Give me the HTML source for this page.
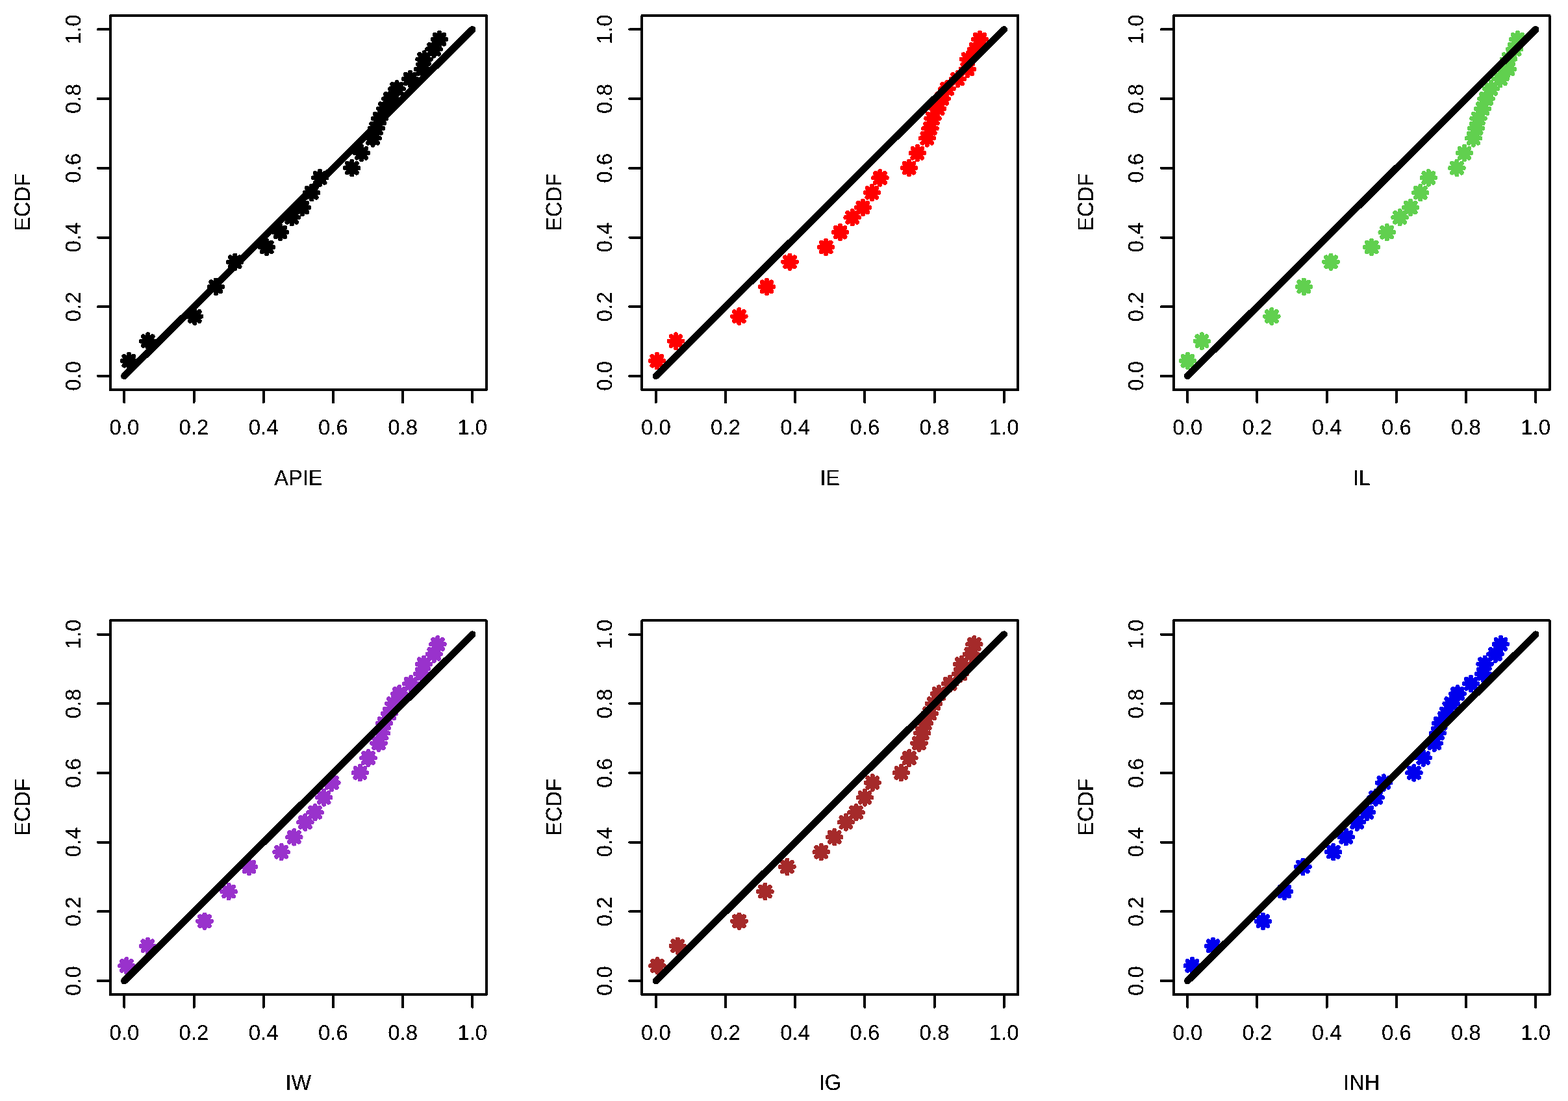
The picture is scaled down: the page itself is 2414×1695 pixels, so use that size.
<!DOCTYPE html>
<html lang="en"><head><meta charset="utf-8"><title>P-P plots: APIE, IE, IL, IW, IG, INH</title>
<style>
html,body{margin:0;padding:0;background:#fff;}
body{width:2414px;height:1695px;overflow:hidden;}
svg{display:block;}
text{font-family:"Liberation Sans", "DejaVu Sans", sans-serif;font-size:33.0px;fill:#000;text-anchor:middle;text-rendering:geometricPrecision;}
.ax{stroke:#000;stroke-width:4;fill:none;stroke-linecap:round;stroke-linejoin:round;}
.ln{stroke:#000;stroke-width:9.38;fill:none;stroke-linecap:round;}
.mk{stroke-width:6.25;fill:none;stroke-linecap:round;}
</style></head><body>
<svg width="2414" height="1695" viewBox="0 0 2414 1695" shape-rendering="crispEdges">
<rect x="0" y="0" width="2414" height="1695" fill="#ffffff"/>
<defs>
<path id="a" d="M-10.2 0H10.2M0 -10.2V10.2M-7.21 -7.21L7.21 7.21M-7.21 7.21L7.21 -7.21"/>
<g id="m"><use href="#a" x="-0.42" y="-0.42"/><use href="#a" x="-0.42" y="0.42"/><use href="#a" x="0.42" y="-0.42"/><use href="#a" x="0.42" y="0.42"/></g>
<filter id="hard" filterUnits="userSpaceOnUse" x="0" y="0" width="2414" height="1695" color-interpolation-filters="sRGB"><feComponentTransfer><feFuncA type="discrete" tableValues="0 0 1 1 1"/></feComponentTransfer></filter>
</defs>
<g id="panel-apie">
<g class="mk" stroke="#000000">
<use href="#m" x="198.3" y="555.6"/>
<use href="#m" x="227.7" y="525.14"/>
<use href="#m" x="299.7" y="487.07"/>
<use href="#m" x="332.3" y="441.38"/>
<use href="#m" x="361.7" y="403.3"/>
<use href="#m" x="410.7" y="380.46"/>
<use href="#m" x="431.5" y="357.61"/>
<use href="#m" x="449.3" y="334.77"/>
<use href="#m" x="465.6" y="319.54"/>
<use href="#m" x="479.7" y="296.69"/>
<use href="#m" x="492.6" y="273.85"/>
<use href="#m" x="541.8" y="258.62"/>
<use href="#m" x="556.5" y="235.77"/>
<use href="#m" x="574" y="212.93"/>
<use href="#m" x="579.3" y="197.7"/>
<use href="#m" x="584.5" y="182.47"/>
<use href="#m" x="593" y="167.24"/>
<use href="#m" x="601" y="152.01"/>
<use href="#m" x="611" y="136.78"/>
<use href="#m" x="631.4" y="121.55"/>
<use href="#m" x="650.7" y="106.32"/>
<use href="#m" x="653.1" y="91.09"/>
<use href="#m" x="668" y="75.86"/>
<use href="#m" x="676.5" y="60.63"/>
</g>
<path class="ln" d="M190.85 578.4l535.9 -533.5M190.85 579.4l535.9 -533.5M191.85 578.4l535.9 -533.5M191.85 579.4l535.9 -533.5"/>
<path class="ax" d="M169.91 24.06H748.7V600.24H169.91Z"/>
<path class="ax" d="M191.35 600.24v19.2M169.91 578.9h-19.2M298.53 600.24v19.2M169.91 472.2h-19.2M405.71 600.24v19.2M169.91 365.5h-19.2M512.89 600.24v19.2M169.91 258.8h-19.2M620.07 600.24v19.2M169.91 152.1h-19.2M727.25 600.24v19.2M169.91 45.4h-19.2"/>
</g>
<g id="panel-ie">
<g class="mk" stroke="#ff0000">
<use href="#m" x="1011.3" y="555.6"/>
<use href="#m" x="1040.5" y="525.14"/>
<use href="#m" x="1137.8" y="487.07"/>
<use href="#m" x="1180.5" y="441.38"/>
<use href="#m" x="1216" y="403.3"/>
<use href="#m" x="1271.7" y="380.46"/>
<use href="#m" x="1293.6" y="357.61"/>
<use href="#m" x="1312.2" y="334.77"/>
<use href="#m" x="1328.4" y="319.54"/>
<use href="#m" x="1342.4" y="296.69"/>
<use href="#m" x="1354.9" y="273.85"/>
<use href="#m" x="1399.6" y="258.62"/>
<use href="#m" x="1412.4" y="235.77"/>
<use href="#m" x="1427.4" y="212.93"/>
<use href="#m" x="1431.9" y="197.7"/>
<use href="#m" x="1436" y="182.47"/>
<use href="#m" x="1443.7" y="167.24"/>
<use href="#m" x="1450.1" y="152.01"/>
<use href="#m" x="1457.9" y="136.78"/>
<use href="#m" x="1474.2" y="121.55"/>
<use href="#m" x="1489.3" y="106.32"/>
<use href="#m" x="1490.5" y="91.09"/>
<use href="#m" x="1502.5" y="75.86"/>
<use href="#m" x="1508.5" y="60.63"/>
</g>
<path class="ln" d="M1009.33 578.4l535.9 -533.5M1009.33 579.4l535.9 -533.5M1010.33 578.4l535.9 -533.5M1010.33 579.4l535.9 -533.5"/>
<path class="ax" d="M988.39 24.06H1567.18V600.24H988.39Z"/>
<path class="ax" d="M1009.83 600.24v19.2M988.39 578.9h-19.2M1117.01 600.24v19.2M988.39 472.2h-19.2M1224.19 600.24v19.2M988.39 365.5h-19.2M1331.37 600.24v19.2M988.39 258.8h-19.2M1438.55 600.24v19.2M988.39 152.1h-19.2M1545.73 600.24v19.2M988.39 45.4h-19.2"/>
</g>
<g id="panel-il">
<g class="mk" stroke="#61d04f">
<use href="#m" x="1828.4" y="555.6"/>
<use href="#m" x="1850.4" y="525.14"/>
<use href="#m" x="1957.8" y="487.07"/>
<use href="#m" x="2007.3" y="441.38"/>
<use href="#m" x="2049" y="403.3"/>
<use href="#m" x="2111.7" y="380.46"/>
<use href="#m" x="2135.2" y="357.61"/>
<use href="#m" x="2155.1" y="334.77"/>
<use href="#m" x="2171.7" y="319.54"/>
<use href="#m" x="2186.8" y="296.69"/>
<use href="#m" x="2199.3" y="273.85"/>
<use href="#m" x="2242.9" y="258.62"/>
<use href="#m" x="2254.5" y="235.77"/>
<use href="#m" x="2268.5" y="212.93"/>
<use href="#m" x="2272.6" y="197.7"/>
<use href="#m" x="2276" y="182.47"/>
<use href="#m" x="2282.5" y="167.24"/>
<use href="#m" x="2288" y="152.01"/>
<use href="#m" x="2295.5" y="136.78"/>
<use href="#m" x="2309.9" y="121.55"/>
<use href="#m" x="2321.5" y="106.32"/>
<use href="#m" x="2322.5" y="91.09"/>
<use href="#m" x="2331.6" y="75.86"/>
<use href="#m" x="2336.4" y="60.63"/>
</g>
<path class="ln" d="M1827.81 578.4l535.9 -533.5M1827.81 579.4l535.9 -533.5M1828.81 578.4l535.9 -533.5M1828.81 579.4l535.9 -533.5"/>
<path class="ax" d="M1806.87 24.06H2385.66V600.24H1806.87Z"/>
<path class="ax" d="M1828.31 600.24v19.2M1806.87 578.9h-19.2M1935.49 600.24v19.2M1806.87 472.2h-19.2M2042.67 600.24v19.2M1806.87 365.5h-19.2M2149.85 600.24v19.2M1806.87 258.8h-19.2M2257.03 600.24v19.2M1806.87 152.1h-19.2M2364.21 600.24v19.2M1806.87 45.4h-19.2"/>
</g>
<g id="panel-iw">
<g class="mk" stroke="#9932cc">
<use href="#m" x="194.8" y="1486.79"/>
<use href="#m" x="227.4" y="1456.33"/>
<use href="#m" x="315" y="1418.25"/>
<use href="#m" x="352.1" y="1372.56"/>
<use href="#m" x="383.4" y="1334.48"/>
<use href="#m" x="433.1" y="1311.64"/>
<use href="#m" x="452.8" y="1288.8"/>
<use href="#m" x="469.9" y="1265.95"/>
<use href="#m" x="485" y="1250.72"/>
<use href="#m" x="498.6" y="1227.87"/>
<use href="#m" x="510.8" y="1205.03"/>
<use href="#m" x="554.4" y="1189.8"/>
<use href="#m" x="567" y="1166.95"/>
<use href="#m" x="583" y="1144.11"/>
<use href="#m" x="587.6" y="1128.88"/>
<use href="#m" x="591.4" y="1113.65"/>
<use href="#m" x="599.5" y="1098.42"/>
<use href="#m" x="605.9" y="1083.19"/>
<use href="#m" x="614.9" y="1067.96"/>
<use href="#m" x="632.8" y="1052.73"/>
<use href="#m" x="649.5" y="1037.5"/>
<use href="#m" x="652.5" y="1022.27"/>
<use href="#m" x="668.3" y="1007.04"/>
<use href="#m" x="673.9" y="991.81"/>
</g>
<path class="ln" d="M190.85 1509.58l535.9 -533.5M190.85 1510.58l535.9 -533.5M191.85 1509.58l535.9 -533.5M191.85 1510.58l535.9 -533.5"/>
<path class="ax" d="M169.91 955.24H748.7V1531.42H169.91Z"/>
<path class="ax" d="M191.35 1531.42v19.2M169.91 1510.08h-19.2M298.53 1531.42v19.2M169.91 1403.38h-19.2M405.71 1531.42v19.2M169.91 1296.68h-19.2M512.89 1531.42v19.2M169.91 1189.98h-19.2M620.07 1531.42v19.2M169.91 1083.28h-19.2M727.25 1531.42v19.2M169.91 976.58h-19.2"/>
</g>
<g id="panel-ig">
<g class="mk" stroke="#a52a2a">
<use href="#m" x="1012" y="1486.79"/>
<use href="#m" x="1043.3" y="1456.33"/>
<use href="#m" x="1138" y="1418.25"/>
<use href="#m" x="1177.9" y="1372.56"/>
<use href="#m" x="1211.9" y="1334.48"/>
<use href="#m" x="1264.2" y="1311.64"/>
<use href="#m" x="1284.7" y="1288.8"/>
<use href="#m" x="1302.4" y="1265.95"/>
<use href="#m" x="1318" y="1250.72"/>
<use href="#m" x="1331.5" y="1227.87"/>
<use href="#m" x="1343.3" y="1205.03"/>
<use href="#m" x="1387.4" y="1189.8"/>
<use href="#m" x="1399.9" y="1166.95"/>
<use href="#m" x="1415" y="1144.11"/>
<use href="#m" x="1419.7" y="1128.88"/>
<use href="#m" x="1423.7" y="1113.65"/>
<use href="#m" x="1431.2" y="1098.42"/>
<use href="#m" x="1437.5" y="1083.19"/>
<use href="#m" x="1445.5" y="1067.96"/>
<use href="#m" x="1462.6" y="1052.73"/>
<use href="#m" x="1478.6" y="1037.5"/>
<use href="#m" x="1480.6" y="1022.27"/>
<use href="#m" x="1495.3" y="1007.04"/>
<use href="#m" x="1499.8" y="991.81"/>
</g>
<path class="ln" d="M1009.33 1509.58l535.9 -533.5M1009.33 1510.58l535.9 -533.5M1010.33 1509.58l535.9 -533.5M1010.33 1510.58l535.9 -533.5"/>
<path class="ax" d="M988.39 955.24H1567.18V1531.42H988.39Z"/>
<path class="ax" d="M1009.83 1531.42v19.2M988.39 1510.08h-19.2M1117.01 1531.42v19.2M988.39 1403.38h-19.2M1224.19 1531.42v19.2M988.39 1296.68h-19.2M1331.37 1531.42v19.2M988.39 1189.98h-19.2M1438.55 1531.42v19.2M988.39 1083.28h-19.2M1545.73 1531.42v19.2M988.39 976.58h-19.2"/>
</g>
<g id="panel-inh">
<g class="mk" stroke="#0000ee">
<use href="#m" x="1835.4" y="1486.79"/>
<use href="#m" x="1867.6" y="1456.33"/>
<use href="#m" x="1944.4" y="1418.25"/>
<use href="#m" x="1977.4" y="1372.56"/>
<use href="#m" x="2005.9" y="1334.48"/>
<use href="#m" x="2052.8" y="1311.64"/>
<use href="#m" x="2072.4" y="1288.8"/>
<use href="#m" x="2089.2" y="1265.95"/>
<use href="#m" x="2104.4" y="1250.72"/>
<use href="#m" x="2118" y="1227.87"/>
<use href="#m" x="2130.4" y="1205.03"/>
<use href="#m" x="2176.9" y="1189.8"/>
<use href="#m" x="2191.4" y="1166.95"/>
<use href="#m" x="2208.4" y="1144.11"/>
<use href="#m" x="2213.4" y="1128.88"/>
<use href="#m" x="2217.6" y="1113.65"/>
<use href="#m" x="2227" y="1098.42"/>
<use href="#m" x="2234.2" y="1083.19"/>
<use href="#m" x="2244" y="1067.96"/>
<use href="#m" x="2264.6" y="1052.73"/>
<use href="#m" x="2283.6" y="1037.5"/>
<use href="#m" x="2286.1" y="1022.27"/>
<use href="#m" x="2302.1" y="1007.04"/>
<use href="#m" x="2310.4" y="991.81"/>
</g>
<path class="ln" d="M1827.81 1509.58l535.9 -533.5M1827.81 1510.58l535.9 -533.5M1828.81 1509.58l535.9 -533.5M1828.81 1510.58l535.9 -533.5"/>
<path class="ax" d="M1806.87 955.24H2385.66V1531.42H1806.87Z"/>
<path class="ax" d="M1828.31 1531.42v19.2M1806.87 1510.08h-19.2M1935.49 1531.42v19.2M1806.87 1403.38h-19.2M2042.67 1531.42v19.2M1806.87 1296.68h-19.2M2149.85 1531.42v19.2M1806.87 1189.98h-19.2M2257.03 1531.42v19.2M1806.87 1083.28h-19.2M2364.21 1531.42v19.2M1806.87 976.58h-19.2"/>
</g>
<g id="labels" filter="url(#hard)">
<text x="191.35" y="669">0.0</text>
<text transform="translate(124 578.9) rotate(-90)">0.0</text>
<text x="298.53" y="669">0.2</text>
<text transform="translate(124 472.2) rotate(-90)">0.2</text>
<text x="405.71" y="669">0.4</text>
<text transform="translate(124 365.5) rotate(-90)">0.4</text>
<text x="512.89" y="669">0.6</text>
<text transform="translate(124 258.8) rotate(-90)">0.6</text>
<text x="620.07" y="669">0.8</text>
<text transform="translate(124 152.1) rotate(-90)">0.8</text>
<text x="727.25" y="669">1.0</text>
<text transform="translate(124 45.4) rotate(-90)">1.0</text>
<text transform="translate(459.31 747) scale(0.985 1.03)">APIE</text>
<text transform="translate(45.8 311.35) rotate(-90) scale(0.985 1.03)">ECDF</text>
<text x="1009.83" y="669">0.0</text>
<text transform="translate(942.4 578.9) rotate(-90)">0.0</text>
<text x="1117.01" y="669">0.2</text>
<text transform="translate(942.4 472.2) rotate(-90)">0.2</text>
<text x="1224.19" y="669">0.4</text>
<text transform="translate(942.4 365.5) rotate(-90)">0.4</text>
<text x="1331.37" y="669">0.6</text>
<text transform="translate(942.4 258.8) rotate(-90)">0.6</text>
<text x="1438.55" y="669">0.8</text>
<text transform="translate(942.4 152.1) rotate(-90)">0.8</text>
<text x="1545.73" y="669">1.0</text>
<text transform="translate(942.4 45.4) rotate(-90)">1.0</text>
<text transform="translate(1277.79 747) scale(0.985 1.03)">IE</text>
<text transform="translate(864.28 311.35) rotate(-90) scale(0.985 1.03)">ECDF</text>
<text x="1828.31" y="669">0.0</text>
<text transform="translate(1760 578.9) rotate(-90)">0.0</text>
<text x="1935.49" y="669">0.2</text>
<text transform="translate(1760 472.2) rotate(-90)">0.2</text>
<text x="2042.67" y="669">0.4</text>
<text transform="translate(1760 365.5) rotate(-90)">0.4</text>
<text x="2149.85" y="669">0.6</text>
<text transform="translate(1760 258.8) rotate(-90)">0.6</text>
<text x="2257.03" y="669">0.8</text>
<text transform="translate(1760 152.1) rotate(-90)">0.8</text>
<text x="2364.21" y="669">1.0</text>
<text transform="translate(1760 45.4) rotate(-90)">1.0</text>
<text transform="translate(2096.26 747) scale(0.985 1.03)">IL</text>
<text transform="translate(1682.76 311.35) rotate(-90) scale(0.985 1.03)">ECDF</text>
<text x="191.35" y="1601">0.0</text>
<text transform="translate(124 1510.08) rotate(-90)">0.0</text>
<text x="298.53" y="1601">0.2</text>
<text transform="translate(124 1403.38) rotate(-90)">0.2</text>
<text x="405.71" y="1601">0.4</text>
<text transform="translate(124 1296.68) rotate(-90)">0.4</text>
<text x="512.89" y="1601">0.6</text>
<text transform="translate(124 1189.98) rotate(-90)">0.6</text>
<text x="620.07" y="1601">0.8</text>
<text transform="translate(124 1083.28) rotate(-90)">0.8</text>
<text x="727.25" y="1601">1.0</text>
<text transform="translate(124 976.58) rotate(-90)">1.0</text>
<text transform="translate(459.31 1678.18) scale(0.985 1.03)">IW</text>
<text transform="translate(45.8 1242.53) rotate(-90) scale(0.985 1.03)">ECDF</text>
<text x="1009.83" y="1601">0.0</text>
<text transform="translate(942.4 1510.08) rotate(-90)">0.0</text>
<text x="1117.01" y="1601">0.2</text>
<text transform="translate(942.4 1403.38) rotate(-90)">0.2</text>
<text x="1224.19" y="1601">0.4</text>
<text transform="translate(942.4 1296.68) rotate(-90)">0.4</text>
<text x="1331.37" y="1601">0.6</text>
<text transform="translate(942.4 1189.98) rotate(-90)">0.6</text>
<text x="1438.55" y="1601">0.8</text>
<text transform="translate(942.4 1083.28) rotate(-90)">0.8</text>
<text x="1545.73" y="1601">1.0</text>
<text transform="translate(942.4 976.58) rotate(-90)">1.0</text>
<text transform="translate(1277.79 1678.18) scale(0.985 1.03)">IG</text>
<text transform="translate(864.28 1242.53) rotate(-90) scale(0.985 1.03)">ECDF</text>
<text x="1828.31" y="1601">0.0</text>
<text transform="translate(1760 1510.08) rotate(-90)">0.0</text>
<text x="1935.49" y="1601">0.2</text>
<text transform="translate(1760 1403.38) rotate(-90)">0.2</text>
<text x="2042.67" y="1601">0.4</text>
<text transform="translate(1760 1296.68) rotate(-90)">0.4</text>
<text x="2149.85" y="1601">0.6</text>
<text transform="translate(1760 1189.98) rotate(-90)">0.6</text>
<text x="2257.03" y="1601">0.8</text>
<text transform="translate(1760 1083.28) rotate(-90)">0.8</text>
<text x="2364.21" y="1601">1.0</text>
<text transform="translate(1760 976.58) rotate(-90)">1.0</text>
<text transform="translate(2096.26 1678.18) scale(0.985 1.03)">INH</text>
<text transform="translate(1682.76 1242.53) rotate(-90) scale(0.985 1.03)">ECDF</text>
</g>
</svg>
</body></html>
